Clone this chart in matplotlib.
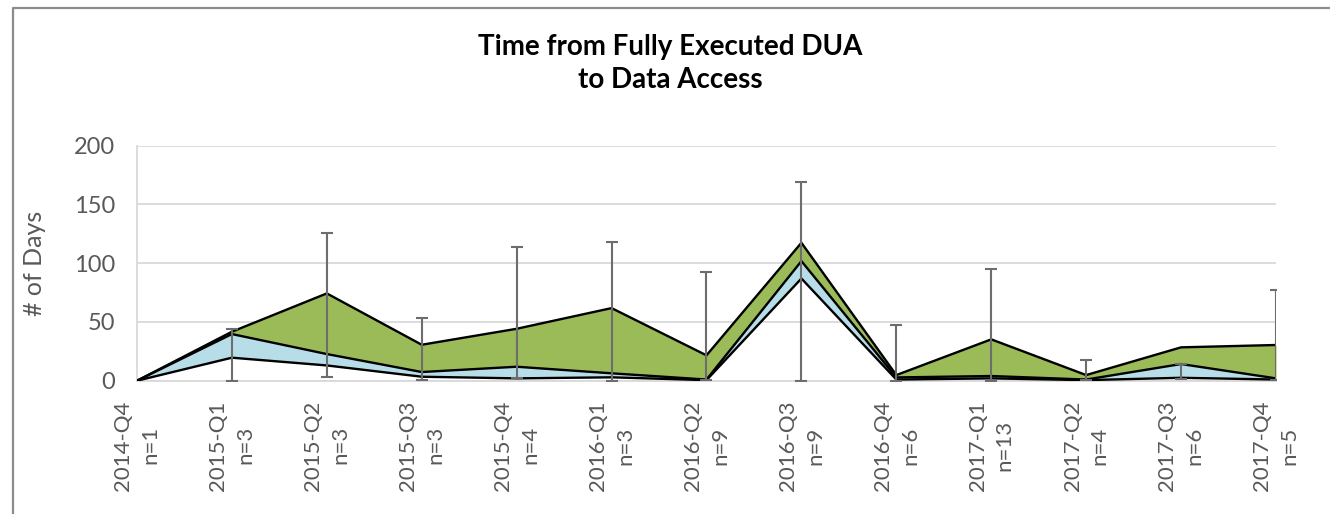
import numpy as np
import matplotlib.pyplot as plt
from matplotlib.lines import Line2D

plt.rcParams['font.family'] = ['Lato', 'DejaVu Sans']

# data
quarters = ['2014-Q4', '2015-Q1', '2015-Q2', '2015-Q3', '2015-Q4', '2016-Q1', '2016-Q2',
            '2016-Q3', '2016-Q4', '2017-Q1', '2017-Q2', '2017-Q3', '2017-Q4']
n_req = [1, 3, 3, 3, 4, 3, 9, 9, 6, 13, 4, 6, 5]
low = [0, 19.6, 13, 3.4, 2, 2.9, 0.5, 87, 1, 2, 0.5, 2.5, 1]
mid = [0, 39.7, 22.7, 7.4, 11.9, 6.3, 1, 101.8, 2.8, 4, 1, 14.2, 2]
top = [0, 41.7, 74.3, 30.6, 44.2, 61.8, 21.6, 117.4, 4.8, 35.2, 4.8, 28.4, 30.4]
err_lo = [np.nan, 0, 3.4, 0.6, 2, 0, 1, 0, 0, 0, 1, 1.5, 1]
err_hi = [np.nan, 43.7, 125.9, 53.3, 113.7, 117.7, 92.4, 169, 47.4, 94.7, 17.6, 14.2, 77.4]

grey = '#595959'
x = np.arange(len(quarters))

fig = plt.figure(figsize=(13.3, 5.14), dpi=100)
ax = fig.add_axes([0.103, 0.2593, 0.8564, 0.4572])

ax.fill_between(x, low, mid, color='#B7DEE8', lw=0, zorder=2)
ax.fill_between(x, mid, top, color='#9BBB59', lw=0, zorder=2)
for s in (low, mid, top):
    ax.plot(x, s, color='black', lw=1.7, zorder=3)

lo = np.array(err_lo)
hi = np.array(err_hi)
ax.errorbar(x, (lo + hi) / 2, yerr=(hi - lo) / 2, fmt='none', ecolor='#6d6d6d',
            elinewidth=1.5, capsize=4.5, capthick=1.5, zorder=4)

ax.set_xlim(0, len(quarters) - 1)
ax.set_ylim(0, 200)
ax.set_yticks([0, 50, 100, 150, 200])
ax.grid(axis='y', color='#D9D9D9', lw=1.3)
ax.set_axisbelow(True)
for side in ('top', 'right'):
    ax.spines[side].set_visible(False)
for side in ('left', 'bottom'):
    ax.spines[side].set_color('#D9D9D9')
    ax.spines[side].set_linewidth(1.3)

ax.set_xticks(x)
ax.set_xticklabels([f'{q}\nn={n}' for q, n in zip(quarters, n_req)], rotation=90,
                   ha='center', va='top', multialignment='center', linespacing=1.45)
ax.tick_params(axis='x', length=0, pad=14, labelsize=16, labelcolor=grey)
ax.tick_params(axis='y', length=0, pad=16, labelsize=17, labelcolor=grey)

fig.text(35 / 1330, 0.488, '# of Days', rotation=90, ha='center', va='center',
         fontsize=18, color=grey)
fig.text(0.504, 0.877, 'Time from Fully Executed DUA\nto Data Access', ha='center',
         va='center', fontsize=20, fontweight='bold', linespacing=1.35)

# chart border (left and top visible)
fig.add_artist(Line2D([12.5 / 1330, 12.5 / 1330, 1], [0, 1 - 8 / 514, 1 - 8 / 514],
                      transform=fig.transFigure, color='#8c8c8c', lw=1.6))

fig.savefig('out.png', dpi=100)
